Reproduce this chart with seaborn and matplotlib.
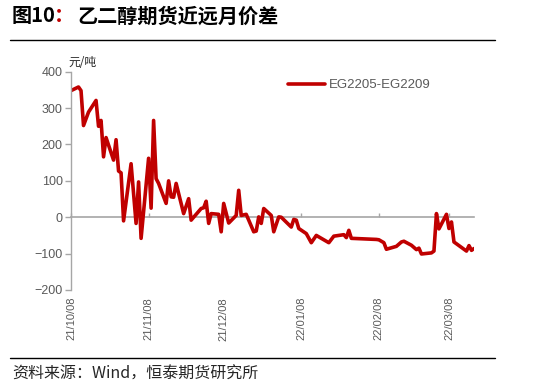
import warnings
warnings.filterwarnings("ignore")

import matplotlib
matplotlib.use("Agg")
import matplotlib.pyplot as plt
import matplotlib.dates as mdates
from matplotlib.lines import Line2D
import pandas as pd
import seaborn as sns

# -------------------------------------------------
# Data
# -------------------------------------------------
dates = [
    "2021-10-08", "2021-10-11", "2021-10-12", "2021-10-13", "2021-10-15",
    "2021-10-18", "2021-10-19", "2021-10-20", "2021-10-21", "2021-10-22",
    "2021-10-25", "2021-10-26", "2021-10-27", "2021-10-28", "2021-10-29",
    "2021-11-01", "2021-11-03", "2021-11-04", "2021-11-05", "2021-11-08",
    "2021-11-09", "2021-11-10", "2021-11-11", "2021-11-12", "2021-11-15",
    "2021-11-16", "2021-11-17", "2021-11-18", "2021-11-19", "2021-11-22",
    "2021-11-24", "2021-11-25", "2021-11-29", "2021-11-30", "2021-12-01",
    "2021-12-02", "2021-12-03", "2021-12-06", "2021-12-07", "2021-12-08",
    "2021-12-10", "2021-12-13", "2021-12-14", "2021-12-15", "2021-12-17",
    "2021-12-20", "2021-12-21", "2021-12-22", "2021-12-23", "2021-12-24",
    "2021-12-27", "2021-12-28", "2021-12-30", "2021-12-31", "2022-01-04",
    "2022-01-05", "2022-01-06", "2022-01-07", "2022-01-10", "2022-01-12",
    "2022-01-14", "2022-01-19", "2022-01-21", "2022-01-25", "2022-01-26",
    "2022-01-27", "2022-01-28", "2022-02-07", "2022-02-08", "2022-02-10",
    "2022-02-11", "2022-02-15", "2022-02-17", "2022-02-18", "2022-02-21",
    "2022-02-23", "2022-02-24", "2022-02-25", "2022-03-01", "2022-03-02",
    "2022-03-03", "2022-03-04", "2022-03-07", "2022-03-08", "2022-03-09",
    "2022-03-10", "2022-03-14", "2022-03-15", "2022-03-16", "2022-03-17",
    "2022-03-18",
]
spread = [
    348, 358, 348, 252, 289,
    321, 250, 266, 166, 219,
    157, 213, 127, 122, -10,
    147, -17, 97, -58, 162,
    25, 266, 106, 93, 38,
    100, 56, 55, 93, 10,
    51, -8, 24, 26, 44,
    -17, 10, 8, -40, 38,
    -16, 5, 74, 5, 8,
    -40, -38, 1, -17, 24,
    5, -40, 1, 0, -27,
    -6, -8, -31, -45, -70,
    -50, -70, -52, -48, -56,
    -36, -58, -61, -62, -70,
    -88, -80, -68, -66, -77,
    -89, -85, -101, -98, -93,
    10, -32, 8, -31, -13,
    -68, -88, -93, -78, -91,
    -86,
]
tick_dates = ["2021-10-08", "2021-11-08", "2021-12-08",
              "2022-01-08", "2022-02-08", "2022-03-08"]
tick_labels = ["21/10/08", "21/11/08", "21/12/08",
               "22/01/08", "22/02/08", "22/03/08"]
y_ticks = [-200, -100, 0, 100, 200, 300, 400]
series_name = "EG2205-EG2209"

df = pd.DataFrame({"date": pd.to_datetime(dates), "spread": spread})

# -------------------------------------------------
# Plot Settings
# -------------------------------------------------
sns.set_theme(style="white")
plt.rcParams["font.family"] = ["Liberation Sans", "Noto Sans CJK SC", "DejaVu Sans"]
cjk = ["Noto Sans CJK SC", "DejaVu Sans"]
grey = "#A6A6A6"
label_grey = "#595959"

fig = plt.figure(figsize=(5.36, 3.89), dpi=100)
ax = fig.add_axes([71 / 536, 99 / 389, (474 - 71) / 536, (290 - 71.7) / 389])

sns.lineplot(data=df, x="date", y="spread", ax=ax,
             color="#C00000", linewidth=2.6, label=series_name)

ax.set_xlim(df["date"].iloc[0], df["date"].iloc[-1])
ax.set_ylim(y_ticks[0], y_ticks[-1])
ax.set_yticks(y_ticks)
ticks = pd.to_datetime(tick_dates)
ax.set_xticks(ticks)
ax.set_xticklabels(tick_labels, rotation=90)
ax.set_xlabel("")
ax.set_ylabel("")

ax.tick_params(axis="x", length=0, labelsize=8, labelcolor=label_grey, pad=5)
ax.tick_params(axis="y", left=True, length=4, width=1, direction="out",
               color=grey, labelsize=9, labelcolor=label_grey, pad=2)
for side in ["top", "right", "bottom"]:
    ax.spines[side].set_visible(False)
ax.spines["left"].set_color(grey)
ax.spines["left"].set_linewidth(1)

# zero line with month ticks
zero_pos = (0 - y_ticks[0]) / (y_ticks[-1] - y_ticks[0])
sec = ax.secondary_xaxis(zero_pos)
sec.set_xticks(mdates.date2num(ticks))
sec.tick_params(axis="x", direction="in", length=3, width=1, color=grey,
                labelbottom=False, labeltop=False)
for s in sec.spines.values():
    s.set_color(grey)
    s.set_linewidth(1.2)

ax.legend(loc="center left", bbox_to_anchor=(0.538, 0.939), frameon=False,
          fontsize=9.5, handlelength=2.8, handletextpad=0.3,
          borderpad=0, borderaxespad=0, labelcolor=label_grey)

# -------------------------------------------------
# Texts and rules
# -------------------------------------------------
fig.text(68 / 536, 1 - 63 / 389, "元/吨", fontsize=8.5, family=cjk,
         color="#262626", va="center", ha="left")

title_y = 1 - 16 / 389
fig.text(12 / 536, title_y, "图10", fontsize=14.5, weight="bold",
         family=cjk, color="black", va="center", ha="left")
fig.text(54 / 536, title_y, "：", fontsize=14.5, weight="bold",
         family=cjk, color="#C00000", va="center", ha="left")
fig.text(77 / 536, title_y, "乙二醇期货近远月价差", fontsize=14.5, weight="bold",
         family=cjk, color="black", va="center", ha="left")

fig.add_artist(Line2D([10 / 536, 495 / 536], [1 - 39.5 / 389] * 2,
                      color="black", lw=1, transform=fig.transFigure))
fig.add_artist(Line2D([10 / 536, 495 / 536], [1 - 358.3 / 389] * 2,
                      color="black", lw=1, transform=fig.transFigure))

fig.text(12 / 536, 1 - 374.5 / 389, "资料来源：Wind，恒泰期货研究所",
         fontsize=11.5, family=cjk, color="#262626", va="center", ha="left")

fig.savefig("out.png", dpi=100)
